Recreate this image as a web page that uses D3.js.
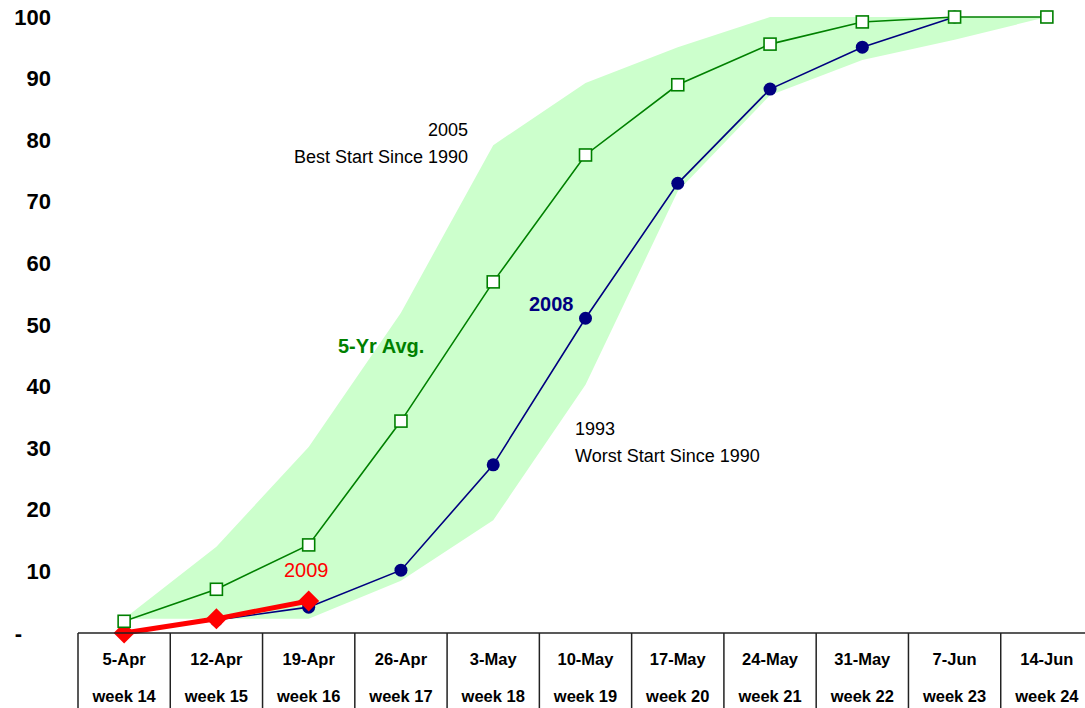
<!DOCTYPE html>
<html>
<head>
<meta charset="utf-8">
<script src="https://cdn.jsdelivr.net/npm/d3@7"></script>
<style>
  body { margin: 0; background: #fff; }
  text { font-family: 'Liberation Sans', Arial, sans-serif; }
</style>
</head>
<body>
<script>
// week labels
const dates = ['5-Apr', '12-Apr', '19-Apr', '26-Apr', '3-May', '10-May', '17-May', '24-May', '31-May', '7-Jun', '14-Jun'];
const weekNames = ['week 14', 'week 15', 'week 16', 'week 17', 'week 18', 'week 19', 'week 20', 'week 21', 'week 22', 'week 23', 'week 24'];

// band: best start (2005) and worst start (1993)
const best2005 = [2.3, 14, 30.2, 52, 79.2, 89.3, 95.1, 100, 100, 100, 100];
const worst1993 = [2.3, 2.3, 2.3, 8.5, 18.3, 40.3, 71.7, 87.3, 93, 96.3, 100];

// series
const avg5yr = [1.9, 7.1, 14.3, 34.4, 57, 77.6, 89, 95.6, 99.2, 100, 100];
const y2008 = [0, 2.1, 4.2, 10.2, 27.3, 51.1, 73, 88.3, 95.1, 100];
const y2009 = [0, 2.3, 5.2];

const yTicks = [0, 10, 20, 30, 40, 50, 60, 70, 80, 90, 100];

const width = 1085, height = 708;

const svg = d3.select('body')
  .append('svg')
  .attr('width', width)
  .attr('height', height);

const xScale = d3.scaleBand()
  .domain(dates)
  .range([78, 1093])
  .padding(0);

const yScale = d3.scaleLinear()
  .domain([0, 100])
  .range([633, 17]);

const cx = d => xScale(d) + xScale.bandwidth() / 2;

// shaded range between worst and best start
const band = dates.map((d, i) => ({ d: d, lo: worst1993[i], hi: best2005[i] }));
svg.append('path')
  .datum(band)
  .attr('fill', '#ccffcc')
  .attr('d', d3.area()
    .x(d => cx(d.d))
    .y0(d => yScale(d.lo))
    .y1(d => yScale(d.hi)));

const line = d3.line()
  .x(d => cx(d.d))
  .y(d => yScale(d.v));

const toPts = arr => arr.map((v, i) => ({ d: dates[i], v: v }));

// 5 year average
svg.append('path')
  .datum(toPts(avg5yr))
  .attr('fill', 'none')
  .attr('stroke', '#008000')
  .attr('stroke-width', 1.6)
  .attr('d', line);

// 2008
svg.append('path')
  .datum(toPts(y2008))
  .attr('fill', 'none')
  .attr('stroke', '#000080')
  .attr('stroke-width', 1.6)
  .attr('d', line);

svg.append('g')
  .selectAll('circle')
  .data(toPts(y2008))
  .join('circle')
  .attr('cx', d => cx(d.d))
  .attr('cy', d => yScale(d.v))
  .attr('r', 6.5)
  .attr('fill', '#000080');

// 2009
svg.append('path')
  .datum(toPts(y2009))
  .attr('fill', 'none')
  .attr('stroke', '#ff0000')
  .attr('stroke-width', 5)
  .attr('d', line);

svg.append('g')
  .selectAll('path')
  .data(toPts(y2009))
  .join('path')
  .attr('transform', d => `translate(${cx(d.d)},${yScale(d.v)})`)
  .attr('d', 'M0,-10.5L10.5,0L0,10.5L-10.5,0Z')
  .attr('fill', '#ff0000');

// average markers on top
svg.append('g')
  .selectAll('rect')
  .data(toPts(avg5yr))
  .join('rect')
  .attr('x', d => cx(d.d) - 6)
  .attr('y', d => yScale(d.v) - 6)
  .attr('width', 12)
  .attr('height', 12)
  .attr('fill', '#fff')
  .attr('stroke', '#008000')
  .attr('stroke-width', 1.6);

// y axis labels
const yAxis = d3.axisLeft(yScale)
  .tickValues(yTicks)
  .tickSize(0)
  .tickPadding(0)
  .tickFormat(d => d === 0 ? '-' : d);

svg.append('g')
  .attr('transform', 'translate(51,0)')
  .call(yAxis)
  .call(g => g.select('.domain').remove())
  .selectAll('text')
  .attr('fill', '#000')
  .style('font-family', "'Liberation Sans', Arial, sans-serif")
  .style('font-size', '22px')
  .style('font-weight', 'bold');

svg.selectAll('.tick text')
  .filter(d => d === 0)
  .attr('x', -29);

// category table at the bottom
const table = svg.append('g');
table.append('line')
  .attr('x1', xScale.range()[0]).attr('x2', width)
  .attr('y1', yScale(0)).attr('y2', yScale(0))
  .attr('stroke', '#222').attr('stroke-width', 1.5);

table.selectAll('line.div')
  .data(dates)
  .join('line')
  .attr('class', 'div')
  .attr('x1', d => xScale(d)).attr('x2', d => xScale(d))
  .attr('y1', yScale(0)).attr('y2', height)
  .attr('stroke', '#222').attr('stroke-width', 1.5);

table.selectAll('text.date')
  .data(dates)
  .join('text')
  .attr('class', 'date')
  .attr('x', d => cx(d))
  .attr('y', 665)
  .attr('text-anchor', 'middle')
  .style('font-size', '16.5px')
  .style('font-weight', 'bold')
  .text(d => d);

table.selectAll('text.week')
  .data(weekNames)
  .join('text')
  .attr('class', 'week')
  .attr('x', (d, i) => cx(dates[i]))
  .attr('y', 702)
  .attr('text-anchor', 'middle')
  .style('font-size', '16.5px')
  .style('font-weight', 'bold')
  .text(d => d);

// annotations
const note = (x, y, txt, opts) => {
  svg.append('text')
    .attr('x', x).attr('y', y)
    .attr('text-anchor', opts.anchor || 'start')
    .attr('fill', opts.color || '#000')
    .style('font-size', (opts.size || 18) + 'px')
    .style('font-weight', opts.weight || 'normal')
    .text(txt);
};

note(468, 136, '2005', { anchor: 'end' });
note(468, 163, 'Best Start Since 1990', { anchor: 'end' });
note(575, 435, '1993', {});
note(575, 462, 'Worst Start Since 1990', {});
note(529, 311, '2008', { color: '#000080', size: 20, weight: 'bold' });
note(338, 353, '5-Yr Avg.', { color: '#008000', size: 20, weight: 'bold' });
note(284, 577, '2009', { color: '#ff0000', size: 20 });
</script>
</body>
</html>
